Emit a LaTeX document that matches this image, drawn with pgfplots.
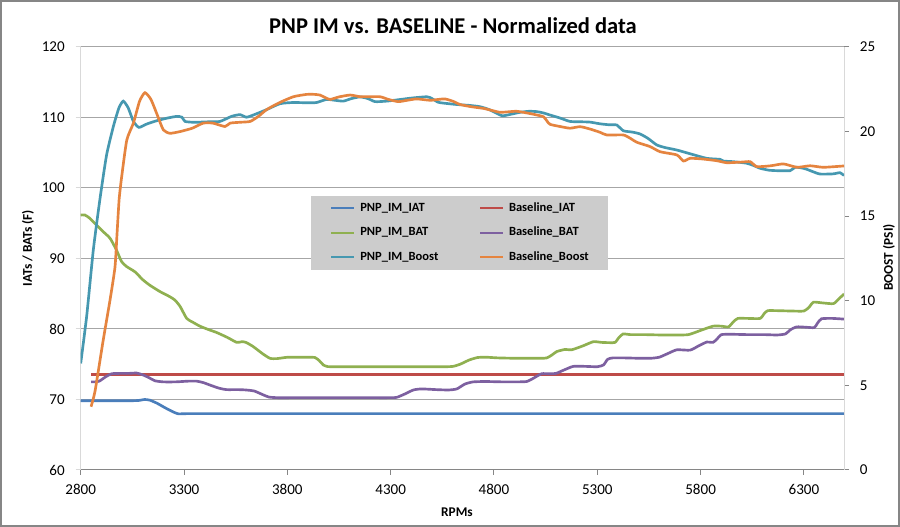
\documentclass[border=0pt]{standalone}
\usepackage{pgfplots}
\pgfplotsset{compat=1.18}
\usepackage{fontspec}
\setmainfont{Carlito}
\definecolor{cIAT}{HTML}{4A7EBB}
\definecolor{cBIAT}{HTML}{BE4B48}
\definecolor{cBAT}{HTML}{8FB050}
\definecolor{cBBAT}{HTML}{7D60A0}
\definecolor{cBoost}{HTML}{4698B0}
\definecolor{cBBoost}{HTML}{E5843F}
\definecolor{gridc}{HTML}{A6A6A6}
\definecolor{axlight}{HTML}{D9D9D9}
\definecolor{axdark}{HTML}{868686}
\definecolor{legfill}{HTML}{CCCCCC}
\definecolor{brd}{HTML}{868686}

\pgfplotstableread{
x y
2800 69.83
2900 69.83
3000 69.83
3050 69.83
3080 69.86
3110 70.0
3135 69.9
3170 69.46
3210 68.8
3250 68.2
3273 67.96
3295 67.98
3330 68.0
3380 68.0
3450 68.0
3550 68.0
3700 68.0
3900 68.0
4100 68.0
4300 68.0
4500 68.0
4700 68.0
4900 68.0
5100 68.0
5300 68.0
5500 68.0
5700 68.0
5900 68.0
6100 68.0
6300 68.0
6494 68.0
}\pnpiat

\pgfplotstableread{
x y
2850 73.5
6494 73.5
}\baseiat

\pgfplotstableread{
x y
2800 96.17
2820 96.17
2840 95.8
2861 95.2
2885 94.5
2909 93.8
2942 92.87
2973 91.2
2998 89.55
3023 88.84
3063 88.1
3100 87.0
3135 86.2
3184 85.3
3230 84.6
3256 84.1
3281 83.2
3313 81.5
3340 81.0
3377 80.4
3420 79.9
3458 79.5
3510 78.8
3555 78.1
3580 78.2
3600 78.1
3635 77.5
3680 76.5
3716 75.84
3750 75.8
3797 75.98
3850 76.0
3900 76.0
3934 75.95
3955 75.5
3974 74.9
3995 74.67
4030 74.65
4080 74.65
4150 74.65
4250 74.65
4350 74.65
4450 74.65
4520 74.65
4570 74.65
4603 74.7
4636 75.0
4680 75.6
4720 75.95
4760 76.0
4820 75.9
4900 75.85
4980 75.85
5030 75.85
5056 75.9
5080 76.3
5104 76.8
5144 77.1
5176 77.05
5230 77.6
5281 78.2
5320 78.1
5360 78.06
5386 78.1
5405 78.8
5425 79.3
5460 79.2
5530 79.2
5610 79.15
5680 79.15
5741 79.2
5800 79.8
5860 80.4
5900 80.4
5935 80.3
5958 81.0
5980 81.5
6030 81.5
6088 81.5
6108 82.2
6125 82.6
6170 82.6
6240 82.55
6300 82.55
6325 83.1
6346 83.8
6390 83.7
6443 83.6
6470 84.3
6494 84.97
}\pnpbat

\pgfplotstableread{
x y
2850 72.5
2870 72.5
2890 72.6
2920 73.2
2950 73.65
2990 73.7
3030 73.7
3071 73.75
3100 73.5
3130 73.1
3160 72.65
3200 72.5
3260 72.5
3320 72.6
3361 72.6
3393 72.4
3430 72.0
3470 71.6
3506 71.4
3560 71.4
3600 71.35
3640 71.2
3680 70.7
3710 70.35
3750 70.26
3820 70.26
3920 70.26
4020 70.26
4120 70.26
4220 70.26
4290 70.26
4329 70.3
4370 70.8
4410 71.35
4450 71.5
4520 71.4
4580 71.35
4620 71.5
4660 72.2
4700 72.5
4760 72.55
4840 72.5
4910 72.5
4958 72.55
4990 73.0
5030 73.65
5070 73.65
5100 73.7
5140 74.2
5184 74.7
5240 74.7
5300 74.65
5330 74.9
5350 75.7
5375 75.9
5430 75.9
5500 75.85
5560 75.85
5600 76.0
5640 76.5
5685 77.05
5749 77.0
5790 77.6
5830 78.15
5860 78.1
5880 78.6
5900 79.2
5950 79.25
6030 79.2
6110 79.2
6170 79.15
6210 79.3
6235 79.9
6265 80.3
6310 80.25
6350 80.2
6365 80.8
6385 81.45
6440 81.5
6494 81.4
}\basebat

\pgfplotstableread{
x y
2800 6.3
2829 9.1
2861 13.0
2893 16.0
2925 18.6
2958 20.3
2985 21.4
3006 21.8
3030 21.4
3055 20.6
3082 20.25
3120 20.45
3170 20.65
3220 20.8
3265 20.9
3290 20.85
3305 20.6
3350 20.55
3420 20.58
3474 20.6
3530 20.9
3571 21.0
3603 20.85
3650 21.05
3700 21.3
3765 21.65
3830 21.72
3900 21.7
3942 21.72
3990 21.9
4030 21.85
4071 21.8
4110 21.95
4152 22.05
4190 21.95
4225 21.77
4280 21.8
4329 21.87
4400 21.98
4475 22.06
4500 21.95
4531 21.73
4580 21.65
4620 21.6
4680 21.55
4733 21.47
4781 21.28
4838 20.94
4880 21.02
4926 21.14
4970 21.2
5007 21.18
5040 21.1
5071 20.98
5120 20.8
5168 20.6
5220 20.58
5265 20.56
5313 20.46
5360 20.4
5394 20.39
5426 20.05
5470 19.97
5507 19.86
5545 19.6
5588 19.21
5630 19.05
5685 18.91
5752 18.68
5829 18.42
5894 18.36
5910 18.26
5960 18.22
6023 18.13
6055 18.0
6088 17.83
6130 17.72
6169 17.69
6233 17.69
6257 17.89
6290 17.85
6314 17.77
6350 17.6
6378 17.49
6440 17.5
6475 17.57
6494 17.4
}\pnpboost

\pgfplotstableread{
x y
2850 3.74
2870 4.7
2909 7.68
2942 10.05
2966 12.0
2976 14.0
2986 16.0
2998 17.3
3023 19.5
3055 20.5
3085 21.8
3111 22.3
3140 21.9
3170 21.0
3200 20.1
3232 19.9
3280 20.0
3340 20.2
3393 20.5
3440 20.5
3498 20.3
3523 20.5
3570 20.55
3620 20.6
3660 20.9
3700 21.3
3760 21.7
3829 22.06
3894 22.2
3930 22.2
3958 22.16
3985 22.0
4007 21.9
4050 22.05
4104 22.16
4152 22.06
4200 22.06
4249 22.06
4290 21.9
4337 21.77
4380 21.85
4426 21.93
4491 21.85
4530 21.9
4563 21.93
4600 21.8
4636 21.6
4690 21.47
4749 21.37
4790 21.25
4829 21.14
4870 21.17
4910 21.2
4960 21.1
5000 21.0
5039 20.88
5055 20.65
5071 20.43
5120 20.3
5168 20.2
5217 20.29
5265 20.15
5313 19.96
5346 19.8
5426 19.8
5460 19.6
5491 19.37
5556 19.11
5604 18.81
5685 18.62
5717 18.26
5749 18.42
5810 18.38
5878 18.28
5927 18.16
6000 18.2
6040 18.22
6072 17.93
6140 17.98
6201 18.09
6266 17.89
6330 17.98
6394 17.89
6494 17.97
}\baseboost

\begin{document}
\begin{tikzpicture}[x=0.75pt,y=0.75pt]
\path[use as bounding box] (0,0) rectangle (900,527);
\fill[white] (0,0) rectangle (900,527);
\draw[brd, line width=0.9pt] (1,1) rectangle (899,526);

\pgfplotsset{
  common/.style={
    at={(60.525pt,42.75pt)}, anchor=south west,
    scale only axis, width=572.5pt, height=317.25pt,
    xmin=2800, xmax=6494,
    tick align=outside, major tick length=3.75pt,
    tick label style={font=\fontsize{11.3}{13}\selectfont},
    /pgf/number format/assume math mode=true,
    /pgf/number format/set thousands separator={},
    every axis plot/.append style={line width=2pt, smooth, tension=0.35, mark=none},
  }
}

\begin{axis}[common,
  ymin=60, ymax=120, ytick={60,70,...,120},
  xtick={2800,3300,...,6300},
  axis x line*=bottom, axis y line*=left,
  x axis line style={axdark, line width=0.75pt},
  y axis line style={axlight, line width=0.75pt},
  xtick style={axdark, line width=0.75pt},
  ytick style={axlight, line width=0.75pt},
  ymajorgrids, major grid style={gridc, line width=0.75pt},
  yticklabel style={inner sep=0pt, xshift=-8pt},
  xticklabel style={inner sep=0pt, yshift=-7pt},
]
\addplot[cIAT] table[x=x,y=y] {\pnpiat};
\addplot[cBIAT] table[x=x,y=y] {\baseiat};
\addplot[cBAT] table[x=x,y=y] {\pnpbat};
\addplot[cBBAT] table[x=x,y=y] {\basebat};
\end{axis}

\begin{axis}[common,
  ymin=0, ymax=25, ytick={0,5,...,25},
  hide x axis,
  axis y line*=right,
  y axis line style={axlight, line width=0.75pt},
  ytick style={axdark, line width=0.75pt},
  yticklabel style={inner sep=0pt, xshift=8pt},
  legend columns=2,
  legend image code/.code={\draw[#1, line width=1.5pt] (0pt,0pt) -- (17.25pt,0pt);},
  legend style={
    at={(0.3017,0.6485)}, anchor=north west,
    fill=legfill, draw=none,
    inner xsep=14.25pt, inner ysep=4.6pt,
    row sep=9.5pt,
    font=\fontsize{9.4}{11}\selectfont\bfseries,
    nodes={inner sep=0pt, text height=6.8pt, text depth=2.2pt},
    cells={anchor=west},
    /tikz/column 1/.style={column sep=3.75pt},
    /tikz/column 2/.style={column sep=30.5pt},
    /tikz/column 3/.style={column sep=3.75pt},
  },
]
\addlegendimage{cIAT}\addlegendentry{PNP\_IM\_IAT}
\addlegendimage{cBIAT}\addlegendentry{Baseline\_IAT}
\addlegendimage{cBAT}\addlegendentry{PNP\_IM\_BAT}
\addlegendimage{cBBAT}\addlegendentry{Baseline\_BAT}
\addplot[cBoost] table[x=x,y=y] {\pnpboost};
\addlegendentry{PNP\_IM\_Boost}
\addplot[cBBoost] table[x=x,y=y] {\baseboost};
\addlegendentry{Baseline\_Boost}
\end{axis}

\node[anchor=base, font=\fontsize{16.9}{20}\selectfont\bfseries] at (453,493.7) {PNP IM vs. BASELINE - Normalized data};
\node[rotate=90, font=\fontsize{10}{12}\selectfont\bfseries] at (28,279) {IATs / BATs (F)};
\node[rotate=90, font=\fontsize{10}{12}\selectfont\bfseries] at (889,269.5) {BOOST (PSI)};
\node[font=\fontsize{10}{12}\selectfont\bfseries] at (457,15) {RPMs};
\end{tikzpicture}
\end{document}
